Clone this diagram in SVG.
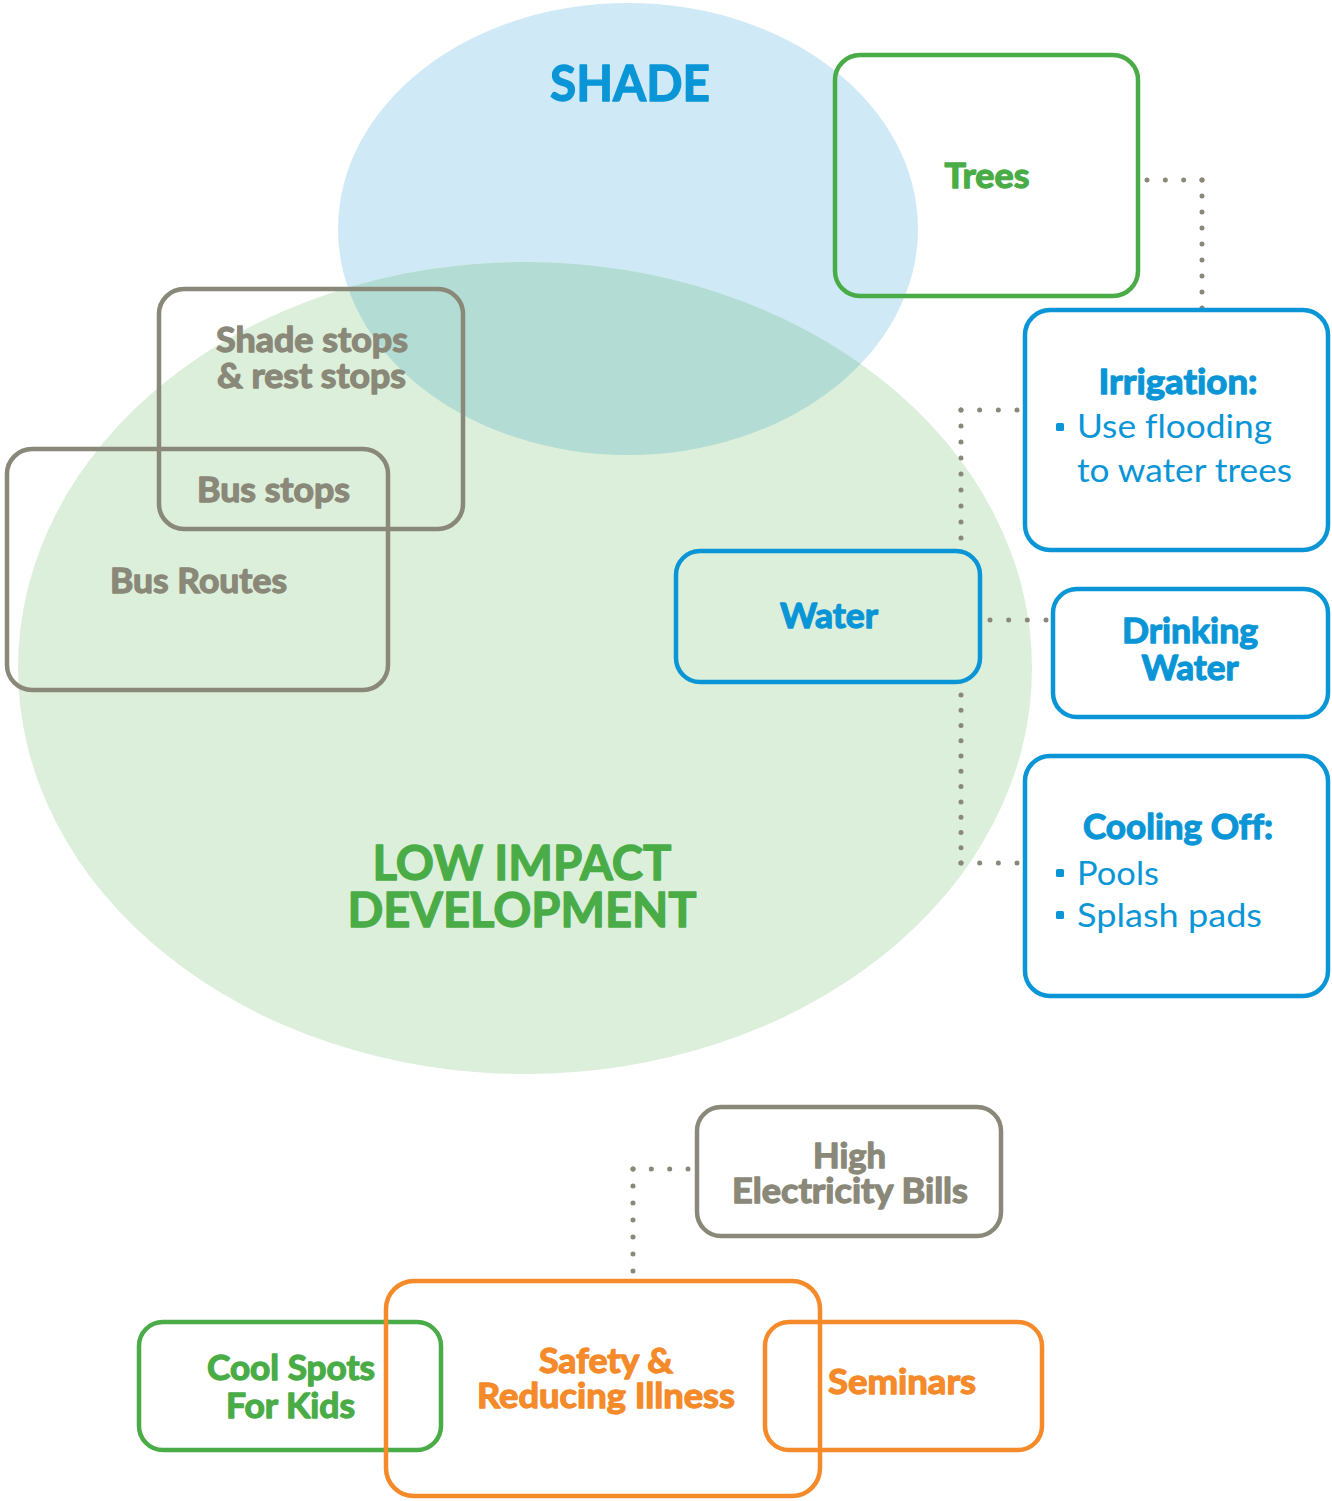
<svg xmlns="http://www.w3.org/2000/svg" width="1332" height="1501" viewBox="0 0 1332 1501">
<style>
text{font-family:Lato,"Open Sans","Liberation Sans",sans-serif;font-weight:bold;font-variant-ligatures:none;stroke-width:1.3;stroke-linejoin:round}
.box{fill:none;stroke-width:4.5}
.g{stroke:#4aac47}.gt{fill:#4aac47;stroke:#4aac47}
.b{stroke:#0a96d6}.bt{fill:#0a96d6;stroke:#0a96d6}
.k{stroke:#8a8878}.kt{fill:#8a8878;stroke:#8a8878}
.o{stroke:#f58a2a}.ot{fill:#f58a2a;stroke:#f58a2a}
text.reg{font-weight:normal;stroke:none}
.dot{fill:none;stroke:#8a8878;stroke-width:5;stroke-linecap:round}
</style>
<defs>
<clipPath id="lidClip"><ellipse cx="525" cy="668" rx="507" ry="406"/></clipPath>
</defs>
<rect width="1332" height="1501" fill="#fff"/>
<g id="shade">
<ellipse cx="628" cy="229" rx="290" ry="226" fill="#cfe9f6"/>
</g>
<g id="lid">
<ellipse cx="525" cy="668" rx="507" ry="406" fill="#dcefdb"/>
<ellipse cx="628" cy="229" rx="290" ry="226" fill="#b2dcd4" clip-path="url(#lidClip)"/>
</g>
<text x="630" y="101" text-anchor="middle" class="bt" font-size="50" textLength="160" lengthAdjust="spacingAndGlyphs">SHADE</text>
<text x="522" y="880" text-anchor="middle" class="gt" font-size="48" textLength="299" lengthAdjust="spacingAndGlyphs">LOW IMPACT</text>
<text x="522" y="927" text-anchor="middle" class="gt" font-size="48" textLength="349" lengthAdjust="spacingAndGlyphs">DEVELOPMENT</text>

<g id="connectors">
<path class="dot" d="M1147 180 H1202.5" stroke-dasharray="0 18.33"/>
<path class="dot" d="M1202 180 V308.5" stroke-dasharray="0 16"/>
<path class="dot" d="M1017 410 H960.5" stroke-dasharray="0 18.67"/>
<path class="dot" d="M961 410 V538.5" stroke-dasharray="0 16"/>
<path class="dot" d="M990 620 H1046.5" stroke-dasharray="0 18.67"/>
<path class="dot" d="M961 695 V863.5" stroke-dasharray="0 15.27"/>
<path class="dot" d="M961 863 H1017.5" stroke-dasharray="0 18.67"/>
<path class="dot" d="M688 1169 H632.5" stroke-dasharray="0 18.33"/>
<path class="dot" d="M633 1169 V1271.5" stroke-dasharray="0 17"/>
</g>

<g id="trees">
<rect class="box g" x="835" y="55" width="303" height="241" rx="25"/>
<text x="987" y="188" text-anchor="middle" class="gt" font-size="35" textLength="85" lengthAdjust="spacingAndGlyphs">Trees</text>
</g>
<g id="irrigation">
<rect class="box b" x="1025" y="310" width="303" height="240" rx="25"/>
<text x="1178" y="394" text-anchor="middle" class="bt" font-size="35" textLength="159" lengthAdjust="spacingAndGlyphs">Irrigation:</text>
<rect x="1056" y="423" width="8" height="8" rx="1.5" fill="#0a96d6"/>
<text x="1077" y="438" class="bt reg" font-size="33" textLength="195" lengthAdjust="spacingAndGlyphs">Use flooding</text>
<text x="1077" y="482" class="bt reg" font-size="33" textLength="215" lengthAdjust="spacingAndGlyphs">to water trees</text>
</g>
<g id="water">
<rect class="box b" x="676" y="551" width="304" height="131" rx="24"/>
<text x="829" y="628" text-anchor="middle" class="bt" font-size="35" textLength="98" lengthAdjust="spacingAndGlyphs">Water</text>
</g>
<g id="drinking">
<rect class="box b" x="1053" y="589" width="275" height="128" rx="24"/>
<text x="1190" y="643" text-anchor="middle" class="bt" font-size="35" textLength="136" lengthAdjust="spacingAndGlyphs">Drinking</text>
<text x="1190" y="680" text-anchor="middle" class="bt" font-size="35" textLength="97" lengthAdjust="spacingAndGlyphs">Water</text>
</g>
<g id="cooling">
<rect class="box b" x="1025" y="756" width="303" height="240" rx="25"/>
<text x="1178" y="839" text-anchor="middle" class="bt" font-size="35" textLength="190" lengthAdjust="spacingAndGlyphs">Cooling Off:</text>
<rect x="1056" y="869" width="8" height="8" rx="1.5" fill="#0a96d6"/>
<text x="1077" y="885" class="bt reg" font-size="33" textLength="82" lengthAdjust="spacingAndGlyphs">Pools</text>
<rect x="1056" y="911" width="8" height="8" rx="1.5" fill="#0a96d6"/>
<text x="1077" y="927" class="bt reg" font-size="33" textLength="185" lengthAdjust="spacingAndGlyphs">Splash pads</text>
</g>
<g id="shadestops">
<rect class="box k" x="159" y="289" width="304" height="240" rx="25"/>
<text x="312" y="352" text-anchor="middle" class="kt" font-size="34" textLength="192" lengthAdjust="spacingAndGlyphs">Shade stops</text>
<text x="311.5" y="388" text-anchor="middle" class="kt" font-size="34" textLength="189" lengthAdjust="spacingAndGlyphs">&amp; rest stops</text>
<text x="273.5" y="502" text-anchor="middle" class="kt" font-size="34" textLength="153" lengthAdjust="spacingAndGlyphs">Bus stops</text>
</g>
<g id="busroutes">
<rect class="box k" x="7" y="449" width="381" height="241" rx="25"/>
<text x="198.5" y="593" text-anchor="middle" class="kt" font-size="34" textLength="177" lengthAdjust="spacingAndGlyphs">Bus Routes</text>
</g>
<g id="electricity">
<rect class="box k" x="697" y="1107" width="304" height="129" rx="24"/>
<text x="849.5" y="1168" text-anchor="middle" class="kt" font-size="34" textLength="73" lengthAdjust="spacingAndGlyphs">High</text>
<text x="850" y="1203" text-anchor="middle" class="kt" font-size="34" textLength="236" lengthAdjust="spacingAndGlyphs">Electricity Bills</text>
</g>
<g id="coolspots">
<rect class="box g" x="139" y="1322" width="302" height="128" rx="24"/>
<text x="291" y="1380" text-anchor="middle" class="gt" font-size="34" textLength="168" lengthAdjust="spacingAndGlyphs">Cool Spots</text>
<text x="290.5" y="1418" text-anchor="middle" class="gt" font-size="34" textLength="129" lengthAdjust="spacingAndGlyphs">For Kids</text>
</g>
<g id="safety">
<rect class="box o" x="386" y="1281" width="434" height="215" rx="28"/>
<text x="606" y="1373" text-anchor="middle" class="ot" font-size="34" textLength="134" lengthAdjust="spacingAndGlyphs">Safety &amp;</text>
<text x="606" y="1408" text-anchor="middle" class="ot" font-size="34" textLength="258" lengthAdjust="spacingAndGlyphs">Reducing Illness</text>
</g>
<g id="seminars">
<rect class="box o" x="765" y="1322" width="277" height="128" rx="24"/>
<text x="902" y="1394" text-anchor="middle" class="ot" font-size="34" textLength="148" lengthAdjust="spacingAndGlyphs">Seminars</text>
</g>
</svg>
